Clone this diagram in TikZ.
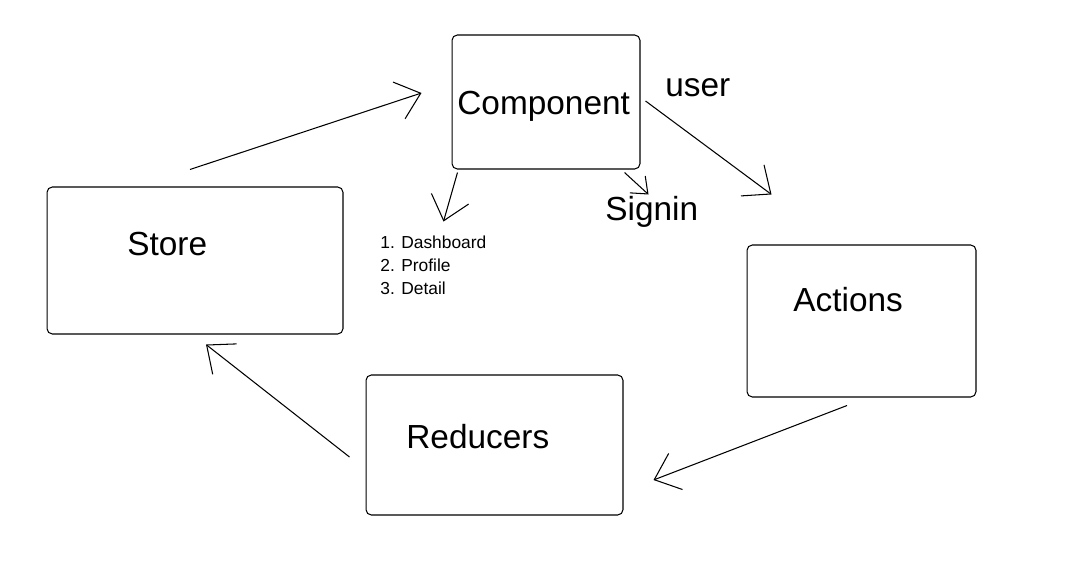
\documentclass[tikz,border=0pt]{standalone}
\usepackage{fontspec}
\setmainfont{Liberation Sans}
\usetikzlibrary{arrows.meta}

\begin{document}
\begin{tikzpicture}[
  x=0.02cm, y=-0.02cm,
  box/.style={rectangle, draw, rounded corners=3pt, line width=0.6pt, inner sep=0pt},
  title/.style={anchor=base west, inner sep=0pt, font=\fontsize{19}{22}\selectfont},
  note/.style={anchor=base west, inner sep=0pt, align=left, font=\fontsize{9.9}{13.1}\selectfont},
  arrow/.style={-{Straight Barb[length=13pt, width=22pt]}, line width=0.6pt},
  small arrow/.style={-{Straight Barb[length=8pt, width=13pt]}, line width=0.6pt}
]
  \useasboundingbox (0,0) rectangle (1070,563);

  \node[box, minimum width=3.76cm, minimum height=2.68cm] (comp) at (546,102) {};
  \node[box, minimum width=5.92cm, minimum height=2.94cm] (store) at (195,260.5) {};
  \node[box, minimum width=4.58cm, minimum height=3.04cm] (actions) at (861.5,321) {};
  \node[box, minimum width=5.14cm, minimum height=2.80cm] (reducers) at (494.5,445) {};

  \node[title] (comptxt) at (457,115) {Component};
  \node[title] (storetxt) at (127,256) {Store};
  \node[title] (actionstxt) at (793,312) {Actions};
  \node[title] (reducerstxt) at (406,448) {Reducers};
  \node[title] (user) at (665,97) {user};
  \node[title] (signin) at (605,221) {Signin};
  \node[note] (pages) at (380,295) {1. Dashboard\\2. Profile\\3. Detail};

  \draw[arrow] ([shift={(-5,-17)}]store.north) -- ([shift={(-30,-9)}]comp.west);
  \draw[arrow] ([shift={(5,-1)}]comp.east) -- ([shift={(25,-50)}]actions.north west);
  \draw[small arrow] ([shift={(-16,3)}]comp.south east) -- ([shift={(8,25)}]comp.south east);
  \draw[arrow] ([shift={(6,3)}]comp.south west) -- ([shift={(-8,52)}]comp.south west);
  \draw[arrow] ([shift={(-14.5,8)}]actions.south) -- ([shift={(30,35)}]reducers.east);
  \draw[arrow] ([shift={(-16,12)}]reducers.west) -- ([shift={(11,10)}]store.south);
\end{tikzpicture}
\end{document}
